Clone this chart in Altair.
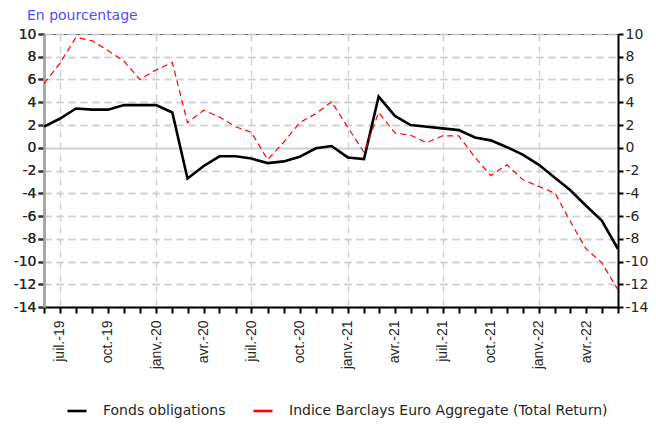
import altair as alt
import pandas as pd

# ---- data -------------------------------------------------------------
months = list(pd.date_range("2019-06-01", periods=37, freq="MS").strftime("%Y-%m-%d"))

series_names = ["Fonds obligations", "Indice Barclays Euro Aggregate (Total Return)"]

fonds = [1.85, 2.55, 3.45, 3.35, 3.35, 3.75, 3.75, 3.75, 3.1, -2.7,
         -1.6, -0.75, -0.75, -0.95, -1.35, -1.2, -0.8, -0.05, 0.15, -0.85,
         -1.0, 4.5, 2.8, 2.0, 1.85, 1.7, 1.55, 0.9, 0.65, 0.05,
         -0.6, -1.5, -2.65, -3.7, -5.1, -6.4, -8.9]

indice = [5.65, 7.4, 9.7, 9.4, 8.55, 7.6, 6.0, 6.85, 7.5, 2.2,
          3.3, 2.7, 1.85, 1.35, -1.05, 0.5, 2.2, 3.0, 4.05, 1.8,
          -0.4, 3.1, 1.3, 1.1, 0.45, 1.05, 1.05, -0.85, -2.45, -1.5,
          -2.8, -3.4, -4.0, -6.4, -8.9, -10.1, -12.5]

month_abbr = ["janv.", "févr.", "mars", "avr.", "mai", "juin",
              "juil.", "août", "sept.", "oct.", "nov.", "déc."]

y_ticks = list(range(-14, 11, 2))

df = pd.DataFrame({
    "date": months * 2,
    "series": [series_names[0]] * len(months) + [series_names[1]] * len(months),
    "value": fonds + indice,
})

# ---- styling ----------------------------------------------------------
FONT = "DejaVu Sans"
XFONT = "Liberation Sans"
TXT = "#262626"

abbr_js = "[" + ",".join("'" + m + "'" for m in month_abbr) + "]"
label_expr = (
    "utcmonth(datum.value) % 3 == 0 ? " + abbr_js +
    "[utcmonth(datum.value)] + '-' + utcFormat(datum.value, '%y') : ''"
)

x_enc = alt.X(
    "date:T",
    scale=alt.Scale(
        type="utc",
        domain=[alt.DateTime(year=2019, month=6, date=1, utc=True),
                alt.DateTime(year=2022, month=6, date=1, utc=True)],
        nice=False,
    ),
    axis=alt.Axis(
        title=None,
        tickCount={"interval": "month", "step": 1},
        labelExpr=label_expr,
        labelAngle=-90,
        labelFont=XFONT,
        labelFontSize=14,
        labelColor=TXT,
        labelPadding=7,
        labelOverlap=False,
        labelBound=False,
        labelFlush=False,
        domainColor="#000000",
        domainWidth=2,
        tickColor="#000000",
        tickWidth=2,
        tickSize=6,
        grid=True,
        gridColor="#cfcfcf",
        gridDash=[7, 5],
        gridWidth=1.4,
        gridOpacity={"condition": {"test": "utcmonth(datum.value) % 6 == 0", "value": 1},
                     "value": 0},
    ),
)

y_scale = alt.Scale(domain=[-14, 10], nice=False, zero=False)
y_label_expr = "'' + datum.value"

y_left = alt.Y(
    "value:Q",
    scale=y_scale,
    axis=alt.Axis(
        title=None,
        orient="left",
        values=y_ticks,
        labelExpr=y_label_expr,
        labelFont=FONT,
        labelFontSize=14,
        labelColor=TXT,
        labelPadding=2,
        domainColor="#a6a6a6",
        domainWidth=2.5,
        tickColor="#333333",
        tickWidth=2,
        tickSize=6,
        grid=True,
        gridColor="#cfcfcf",
        gridWidth=1.4,
        gridDash={"condition": {"test": "datum.value == 0", "value": [1, 0]},
                  "value": [7, 5]},
    ),
)

y_right = alt.Y(
    "value:Q",
    scale=y_scale,
    axis=alt.Axis(
        title=None,
        orient="right",
        values=y_ticks,
        labelExpr=y_label_expr,
        labelFont=FONT,
        labelFontSize=14,
        labelColor=TXT,
        labelPadding=2,
        domainColor="#000000",
        domainWidth=2,
        tickColor="#000000",
        tickWidth=2,
        tickSize=5,
        grid=False,
    ),
)

base = alt.Chart(df).encode(x=x_enc, y=y_left)

black_line = base.transform_filter(
    alt.datum.series == series_names[0]
).mark_line(color="#000000", strokeWidth=2.6, clip=False)

red_line = base.transform_filter(
    alt.datum.series == series_names[1]
).mark_line(color="#ff0000", strokeWidth=1.2, strokeDash=[6, 4], clip=False)

# carries the right-hand axis and the legend (draws no line itself)
legend_layer = alt.Chart(df).transform_filter("false").mark_line(strokeWidth=2.6).encode(
    x=x_enc,
    y=y_right,
    color=alt.Color(
        "series:N",
        scale=alt.Scale(domain=series_names, range=["#000000", "#ff0000"]),
        legend=alt.Legend(
            title=None,
            orient="none",
            legendX=22,
            legendY=366,
            direction="horizontal",
            symbolType="stroke",
            symbolSize=361,
            symbolStrokeWidth=2.6,
            labelFont=FONT,
            labelFontSize=14,
            labelColor=TXT,
            labelLimit=0,
            labelOffset=15,
            columnPadding=22,
        ),
    ),
)

chart = (
    alt.layer(black_line, red_line, legend_layer)
    .resolve_axis(y="independent")
    .properties(
        width=574,
        height=273,
        autosize=alt.AutoSizeParams(type="none"),
        padding={"left": 36, "top": 26, "right": 30, "bottom": 111},
        title=alt.Title(
            "En pourcentage",
            anchor="start",
            frame="group",
            dx=-17,
            offset=4,
            font=FONT,
            fontSize=14,
            fontWeight="normal",
            color="#4f4fff",
        ),
    )
    .configure_view(stroke="#707070", strokeWidth=1)
)

chart.save("out.html", embed_options={"renderer": "svg", "actions": False})
